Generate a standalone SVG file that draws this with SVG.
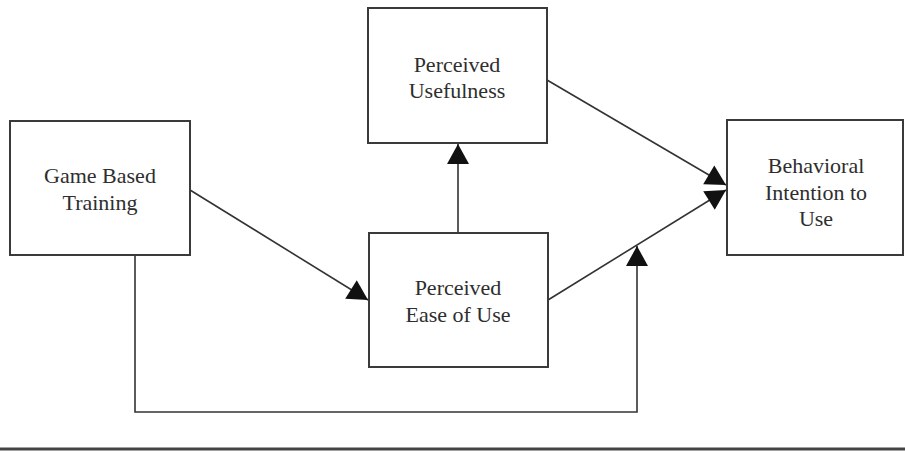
<svg xmlns="http://www.w3.org/2000/svg" width="905" height="452" viewBox="0 0 905 452">
<style>
.box{fill:#fff;stroke:#3a3a3a;stroke-width:2}
.lbl{font-family:"Liberation Serif","Times New Roman",serif;font-size:22px;fill:#2e2e2e;text-anchor:middle}
.con{fill:none;stroke:#333;stroke-width:1.6}
</style>
<defs>
<marker id="ah" markerUnits="userSpaceOnUse" markerWidth="22" markerHeight="22" viewBox="0 0 20 22" refX="20" refY="11" orient="auto">
<path d="M0,0 L20,11 L0,22 z" fill="#111"/>
</marker>
</defs>
<rect width="905" height="452" fill="#fff"/>
<g id="connectors">
<line class="con" x1="190" y1="190" x2="368" y2="300" marker-end="url(#ah)"/>
<line class="con" x1="458" y1="233" x2="458" y2="144" marker-end="url(#ah)"/>
<line class="con" x1="547" y1="80" x2="726" y2="185" marker-end="url(#ah)"/>
<line class="con" x1="548" y1="300" x2="726" y2="190" marker-end="url(#ah)"/>
<polyline class="con" points="135,255 135,412 637,412 637,246" marker-end="url(#ah)"/>
</g>
<g id="game-based-training">
<rect class="box" x="10" y="121" width="180" height="134"/>
<text class="lbl" x="100" y="183">Game Based</text>
<text class="lbl" x="100" y="210">Training</text>
</g>
<g id="perceived-usefulness">
<rect class="box" x="368" y="8" width="179" height="135"/>
<text class="lbl" x="457" y="72">Perceived</text>
<text class="lbl" x="457" y="98">Usefulness</text>
</g>
<g id="perceived-ease-of-use">
<rect class="box" x="369" y="233" width="179" height="134"/>
<text class="lbl" x="458" y="295">Perceived</text>
<text class="lbl" x="458" y="322">Ease of Use</text>
</g>
<g id="behavioral-intention">
<rect class="box" x="727" y="120" width="176" height="135"/>
<text class="lbl" x="816" y="173">Behavioral</text>
<text class="lbl" x="816" y="200">Intention to</text>
<text class="lbl" x="816" y="226">Use</text>
</g>
<line x1="0" y1="449" x2="905" y2="449" stroke="#444" stroke-width="3"/>
</svg>
